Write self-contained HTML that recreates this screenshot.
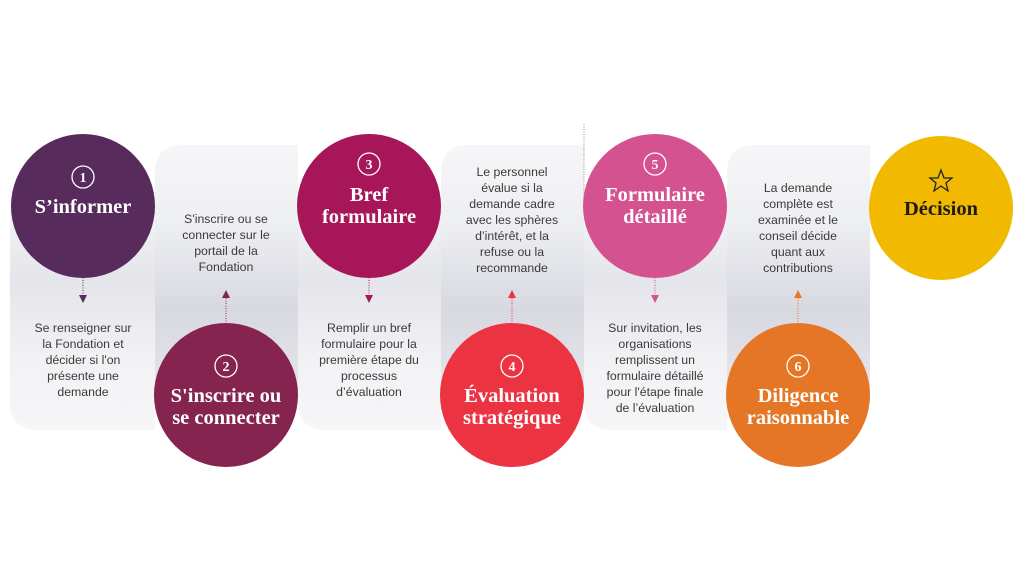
<!DOCTYPE html>
<html><head><meta charset="utf-8"><style>
html,body{margin:0;padding:0;background:#fff;}
svg{display:block}
.t{font-family:"Liberation Serif",serif;font-weight:bold;fill:#fff;font-size:20.5px;text-anchor:middle}
.b{font-family:"Liberation Sans",sans-serif;fill:#3a3a3a;font-size:12.3px;text-anchor:middle}
.n{font-family:"Liberation Serif",serif;font-weight:bold;fill:#fff;font-size:14px;text-anchor:middle}
</style></head><body>
<svg width="1024" height="576" viewBox="0 0 1024 576" xmlns="http://www.w3.org/2000/svg">
<defs>
<linearGradient id="ge" x1="0" y1="0" x2="0" y2="1">
<stop offset="0" stop-color="#f6f6f8"/><stop offset="0.3" stop-color="#eeeff2"/><stop offset="0.65" stop-color="#d8d9e0"/><stop offset="1" stop-color="#e6e7ec"/></linearGradient>
<linearGradient id="go" x1="0" y1="0" x2="0" y2="1">
<stop offset="0" stop-color="#f6f6f8"/><stop offset="0.35" stop-color="#e4e5ea"/><stop offset="0.7" stop-color="#f2f2f5"/><stop offset="1" stop-color="#f6f6f8"/></linearGradient>
</defs>
<path d="M10 200 H155 V430 H38 Q10 430 10 402 Z" fill="url(#go)"/>
<path d="M298 200 H441 V430 H326 Q298 430 298 402 Z" fill="url(#go)"/>
<path d="M584 200 H727 V430 H612 Q584 430 584 402 Z" fill="url(#go)"/>
<path d="M155 173 Q155 145 183 145 H298 V400 H155 Z" fill="url(#ge)"/>
<path d="M441 173 Q441 145 469 145 H584 V400 H441 Z" fill="url(#ge)"/>
<path d="M727 173 Q727 145 755 145 H870 V400 H727 Z" fill="url(#ge)"/>
<line x1="584" y1="124" x2="584" y2="200" stroke="#888" stroke-width="1" stroke-dasharray="1,1.5"/>

<circle cx="83" cy="206" r="72" fill="#572b5c"/>
<circle cx="226" cy="395" r="72" fill="#84244f"/>
<circle cx="369" cy="206" r="72" fill="#a8165a"/>
<circle cx="512" cy="395" r="72" fill="#ec3342"/>
<circle cx="655" cy="206" r="72" fill="#d45290"/>
<circle cx="798" cy="395" r="72" fill="#e47626"/>
<circle cx="941" cy="208" r="72" fill="#f1b900"/>

<g fill="none" stroke="#fff" stroke-width="1.3">
<circle cx="83" cy="177" r="11"/><circle cx="226" cy="366" r="11"/><circle cx="369" cy="164" r="11"/>
<circle cx="512" cy="366" r="11"/><circle cx="655" cy="164" r="11"/><circle cx="798" cy="366" r="11"/></g>
<text class="n" x="83" y="182">1</text><text class="n" x="226" y="371">2</text><text class="n" x="369" y="169">3</text>
<text class="n" x="512" y="371">4</text><text class="n" x="655" y="169">5</text><text class="n" x="798" y="371">6</text>
<polygon points="941,170 944,178 952,178 946,183 948,191 941,186 934,191 936,183 930,178 938,178" fill="none" stroke="#222" stroke-width="1.3"/>

<text class="t" x="83" y="213">S’informer</text>
<text class="t" x="226" y="402">S'inscrire ou</text><text class="t" x="226" y="424">se connecter</text>
<text class="t" x="369" y="201">Bref</text><text class="t" x="369" y="223">formulaire</text>
<text class="t" x="512" y="402">Évaluation</text><text class="t" x="512" y="424">stratégique</text>
<text class="t" x="655" y="201">Formulaire</text><text class="t" x="655" y="223">détaillé</text>
<text class="t" x="798" y="402">Diligence</text><text class="t" x="798" y="424">raisonnable</text>
<text class="t" x="941" y="215" style="fill:#1e1a14">Décision</text>

<g stroke-width="1" stroke-dasharray="1,1.5">
<line x1="83" y1="270" x2="83" y2="295" stroke="#572b5c"/>
<line x1="226" y1="298" x2="226" y2="323" stroke="#84244f"/>
<line x1="369" y1="270" x2="369" y2="295" stroke="#a8165a"/>
<line x1="512" y1="298" x2="512" y2="323" stroke="#ec3342"/>
<line x1="655" y1="270" x2="655" y2="295" stroke="#d45290"/>
<line x1="798" y1="298" x2="798" y2="323" stroke="#e47626"/>
</g>
<polygon points="79,295 87,295 83,303" fill="#572b5c"/>
<polygon points="222,298 230,298 226,290" fill="#84244f"/>
<polygon points="365,295 373,295 369,303" fill="#a8165a"/>
<polygon points="508,298 516,298 512,290" fill="#ec3342"/>
<polygon points="651,295 659,295 655,303" fill="#d45290"/>
<polygon points="794,298 802,298 798,290" fill="#e47626"/>

<text class="b"><tspan x="83" y="332">Se renseigner sur</tspan><tspan x="83" y="348">la Fondation et</tspan><tspan x="83" y="364">décider si l'on</tspan><tspan x="83" y="380">présente une</tspan><tspan x="83" y="396">demande</tspan></text>
<text class="b"><tspan x="226" y="223">S'inscrire ou se</tspan><tspan x="226" y="239">connecter sur le</tspan><tspan x="226" y="255">portail de la</tspan><tspan x="226" y="271">Fondation</tspan></text>
<text class="b"><tspan x="369" y="332">Remplir un bref</tspan><tspan x="369" y="348">formulaire pour la</tspan><tspan x="369" y="364">première étape du</tspan><tspan x="369" y="380">processus</tspan><tspan x="369" y="396">d’évaluation</tspan></text>
<text class="b"><tspan x="512" y="176">Le personnel</tspan><tspan x="512" y="192">évalue si la</tspan><tspan x="512" y="208">demande cadre</tspan><tspan x="512" y="224">avec les sphères</tspan><tspan x="512" y="240">d’intérêt, et la</tspan><tspan x="512" y="256">refuse ou la</tspan><tspan x="512" y="272">recommande</tspan></text>
<text class="b"><tspan x="655" y="332">Sur invitation, les</tspan><tspan x="655" y="348">organisations</tspan><tspan x="655" y="364">remplissent un</tspan><tspan x="655" y="380">formulaire détaillé</tspan><tspan x="655" y="396">pour l'étape finale</tspan><tspan x="655" y="412">de l’évaluation</tspan></text>
<text class="b"><tspan x="798" y="192">La demande</tspan><tspan x="798" y="208">complète est</tspan><tspan x="798" y="224">examinée et le</tspan><tspan x="798" y="240">conseil décide</tspan><tspan x="798" y="256">quant aux</tspan><tspan x="798" y="272">contributions</tspan></text>
</svg>
</body></html>
